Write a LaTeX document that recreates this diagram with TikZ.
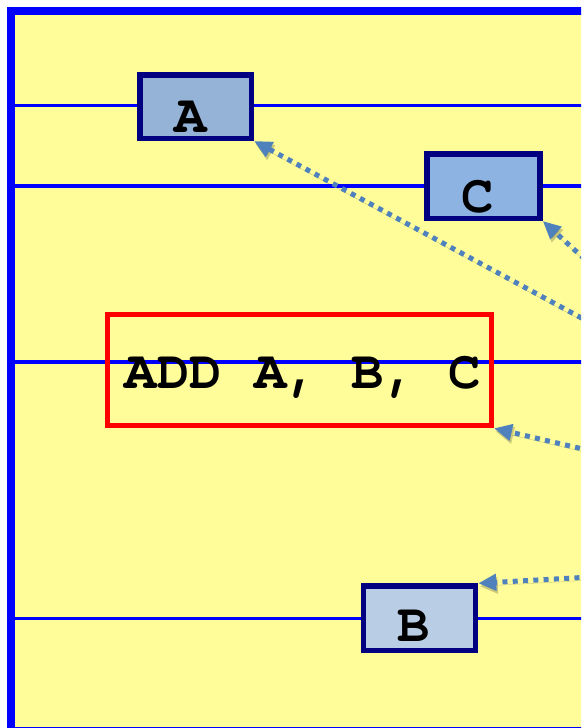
\documentclass[tikz,border=0pt]{standalone}
\usepackage{fontspec}
\setmonofont{TeX Gyre Cursor}
\usetikzlibrary{arrows.meta}
\definecolor{bgyellow}{HTML}{FFFD99}
\definecolor{frameblue}{HTML}{0000FF}
\definecolor{navy}{HTML}{000080}
\definecolor{arrowblue}{HTML}{4F81BD}
\definecolor{fillA}{HTML}{95B3D7}
\definecolor{fillC}{HTML}{8DB3E2}
\definecolor{fillB}{HTML}{B9CDE5}
\begin{document}
\begin{tikzpicture}[x=1pt,y=-1pt,
  hline/.style={draw=frameblue, line width=3.5pt},
  regbox/.style={draw=navy, line width=5.5pt, rectangle, inner sep=0pt, minimum width=112pt, minimum height=64pt},
  instrbox/.style={draw=red, line width=5pt, rectangle, inner sep=0pt, minimum width=384pt, minimum height=111pt},
  lbl/.style={font=\ttfamily\bfseries\fontsize{54}{60}\selectfont, inner sep=0pt, anchor=base},
  dotarrow/.style={draw=arrowblue, line width=5pt, dash pattern=on 5pt off 5.3pt,
    -{Triangle[length=18pt,width=16pt]},
    preaction={draw=black, opacity=0.2, transform canvas={shift={(1.5pt,-3pt)}}}}
]
\useasboundingbox (0,0) rectangle (581,728);
\clip (0,0) rectangle (581,728);
% frame
\draw[line width=8pt, draw=frameblue, fill=bgyellow] (11.3,10.8) rectangle (640,730.5);
% horizontal lines
\draw[hline] (15,105.5) -- (600,105.5);
\draw[hline] (15,186) -- (600,186);
\draw[hline] (15,362) -- (600,362);
\draw[hline] (15,618.3) -- (600,618.3);
% boxes
\node[regbox, fill=fillA, minimum width=111.5pt, minimum height=63.5pt] (A) at (195.5,106.5) {};
\node[regbox, fill=fillC, minimum width=113pt, minimum height=64.5pt] (C) at (483.5,186) {};
\node[regbox, fill=fillB, minimum width=112pt, minimum height=64.5pt] (B) at (419.5,618.3) {};
\node[instrbox] (I) at (299.5,370.3) {};
% labels
\node[lbl] (Alab) at (190.8,132) {A};
\node[lbl] (Clab) at (478,212.3) {C};
\node[lbl] (Blab) at (414,641.7) {B};
\node[lbl] (Ilab) at (303,388) {ADD A, B, C};
% arrows
\coordinate (sA) at (600,328);
\coordinate (sC) at (600,273);
\coordinate (sI) at (600,453);
\coordinate (sB) at (600,576.5);
\draw[dotarrow] (sA) -- (A.south east);
\draw[dotarrow] (sC) -- (C.south east);
\draw[dotarrow] (sI) -- (I.south east);
\draw[dotarrow] (sB) -- (B.north east);
\end{tikzpicture}
\end{document}
